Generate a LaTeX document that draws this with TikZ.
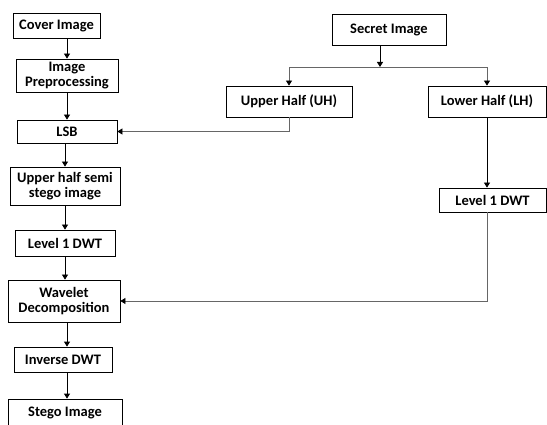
\documentclass[tikz,border=0pt]{standalone}
\usepackage{fontspec}
\setmainfont{Carlito}
\usetikzlibrary{arrows.meta}

\tikzset{
  blk/.style={draw=black,line width=0.8pt,fill=white,inner sep=0pt,align=center,
    font=\bfseries\fontsize{14.5}{15}\selectfont},
  flow/.style={line width=0.8pt,-{Triangle[length=5pt,width=6pt]}},
  link/.style={line width=0.8pt,draw=black!60,-{Triangle[length=5pt,width=6pt,color=black]}}
}

\begin{document}
\begin{tikzpicture}[x=1pt,y=-1pt]
  \clip (0,0) rectangle (547,425);

  % left column: cover image path
  \node[blk,minimum width=87,minimum height=25] (cover) at (56.5,25.5) {Cover Image};
  \node[blk,minimum width=102,minimum height=33] (prep) at (67,75.5) {Image\\Preprocessing};
  \node[blk,minimum width=100,minimum height=23] (lsb) at (67,131.5) {LSB};
  \node[blk,minimum width=110,minimum height=38] (semi) at (65,186) {Upper half semi\\stego image};
  \node[blk,minimum width=100,minimum height=26] (dwtA) at (65,243) {Level 1 DWT};
  \node[blk,minimum width=112,minimum height=42] (wave) at (64,301) {Wavelet\\Decomposition};
  \node[blk,minimum width=98,minimum height=25] (idwt) at (63,359.5) {Inverse DWT};
  \node[blk,minimum width=114,minimum height=28] (stego) at (65,413) {Stego Image};

  \draw[flow] (cover.south -| prep.north) -- (prep.north);
  \draw[flow] (prep.south) -- (lsb.north);
  \draw[flow] (lsb.south -| semi.north) -- (semi.north);
  \draw[flow] (semi.south) -- (dwtA.north);
  \draw[flow] (dwtA.south) -- (dwtA.south |- wave.north);
  \draw[flow] (wave.south -| 67,0) -- (idwt.north -| 67,0);
  \draw[flow] (idwt.south -| 67,0) -- (stego.north -| 67,0);

  % right side: secret image split
  \node[blk,minimum width=114,minimum height=31] (secret) at (389,29.5) {Secret Image};
  \node[blk,minimum width=126,minimum height=31] (uh) at (289,101.5) {Upper Half (UH)};
  \node[blk,minimum width=118,minimum height=31] (lh) at (487,101.5) {Lower Half (LH)};
  \node[blk,minimum width=107,minimum height=24] (dwtB) at (492.5,200) {Level 1 DWT};
  \coordinate (split) at (380,67);

  \draw[flow] (secret.south -| split) -- (split);
  \draw[link] (split) -| (uh.north);
  \draw[link] (split) -| (lh.north);
  \draw[link] (uh.south) |- (lsb.east);
  \draw[flow] (lh.south) -- (lh.south |- dwtB.north);
  \draw[link] (dwtB.south -| lh.south) |- (wave.east);
\end{tikzpicture}
\end{document}
